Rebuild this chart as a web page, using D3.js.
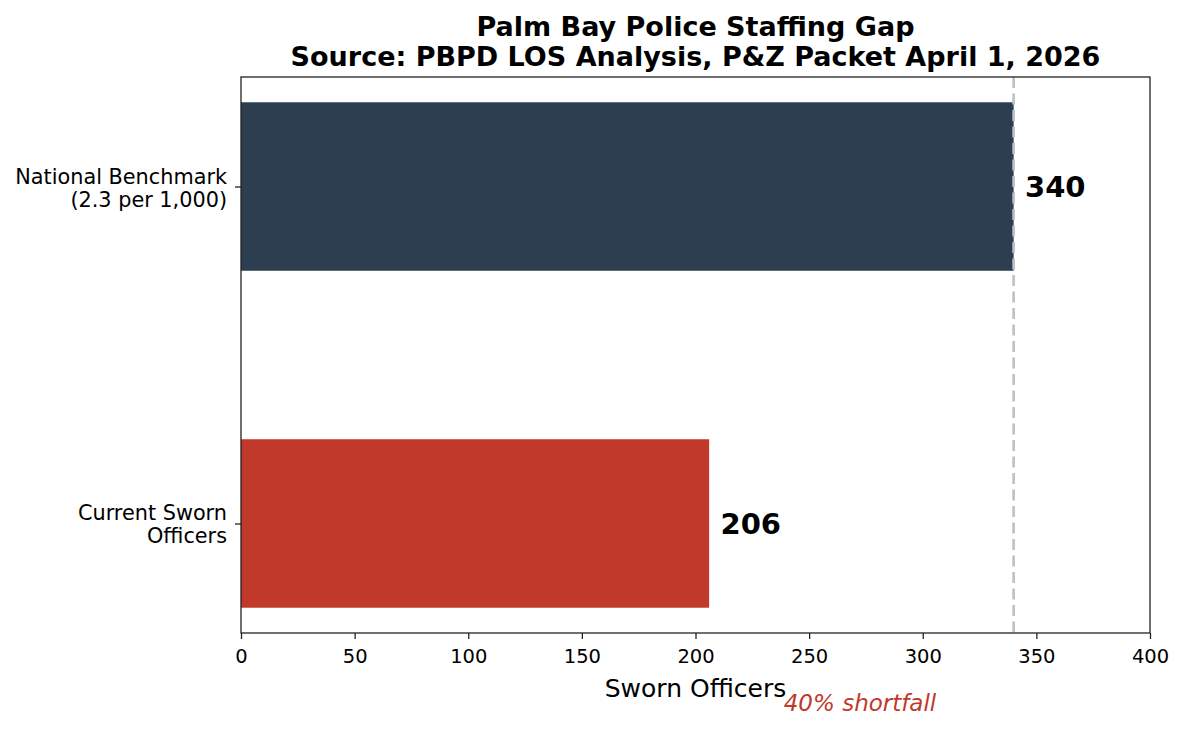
<!DOCTYPE html>
<html><head><meta charset="utf-8">
<script src="https://cdn.jsdelivr.net/npm/d3@7"></script>
<style>body{margin:0;background:#fff}svg{display:block}text{font-family:"DejaVu Sans",sans-serif}</style>
</head><body><svg id="c" width="1184" height="730"></svg>
<script>
const categories = [["Current Sworn","Officers"],["National Benchmark","(2.3 per 1,000)"]];
const values = [206, 340];
const barColors = ["#c0392b", "#2c3e50"];
const xTicks = [0,50,100,150,200,250,300,350,400];
const benchmark = 340;
const titleLines = ["Palm Bay Police Staffing Gap","Source: PBPD LOS Analysis, P&Z Packet April 1, 2026"];
const xLabel = "Sworn Officers";
const note = "40% shortfall";

const svg = d3.select("#c");
const L=241, R=1150, T=77, B=633;
const x = d3.scaleLinear().domain([0,400]).range([L,R]);
const y = d3.scaleLinear().domain([-0.325,1.325]).range([B,T]);
const bh = 0.5;

svg.selectAll("rect.bar").data(values).enter().append("rect")
  .attr("x", x(0)).attr("width", d=>x(d)-x(0))
  .attr("y", (d,i)=>y(i+bh/2)).attr("height", (d,i)=>y(i-bh/2)-y(i+bh/2))
  .attr("fill",(d,i)=>barColors[i]);

svg.append("line").attr("x1",x(benchmark)).attr("x2",x(benchmark)).attr("y1",T).attr("y2",B)
  .attr("stroke","#bdc3c7").attr("stroke-width",2.7).attr("stroke-dasharray","11,5.5");

svg.selectAll("text.val").data(values).enter().append("text")
  .attr("x", d=>x(d+5)).attr("y",(d,i)=>y(i)).attr("dy","0.36em")
  .attr("font-size",29).attr("font-weight","bold").text(d=>d);

// frame
svg.append("rect").attr("x",L).attr("y",T).attr("width",R-L).attr("height",B-T)
  .attr("fill","none").attr("stroke","#222").attr("stroke-width",1.3);

const xa = svg.append("g").attr("transform",`translate(0,${B})`)
  .call(d3.axisBottom(x).tickValues(xTicks).tickSize(6).tickPadding(10).tickFormat(d3.format("d")));
xa.select(".domain").remove();
xa.selectAll("line").attr("stroke","#222").attr("stroke-width",1.3);
xa.selectAll("text").attr("font-size",19.5).attr("fill","#000").style("font-family","DejaVu Sans");

const ya = svg.append("g").attr("transform",`translate(${L},0)`)
  .call(d3.axisLeft(y).tickValues([0,1]).tickSize(6).tickFormat(""));
ya.select(".domain").remove();
ya.selectAll("line").attr("stroke","#222").attr("stroke-width",1.3);
categories.forEach((lines,i)=>{
  lines.forEach((s,j)=>svg.append("text").attr("text-anchor","end").attr("font-size",20.8)
    .attr("x", L-14).attr("y", y(i) + 1 + (j-(lines.length-1)/2)*23).attr("dy","0.36em").text(s));
});

svg.append("text").attr("x",(L+R)/2).attr("y",697).attr("text-anchor","middle")
  .attr("font-size",25).text(xLabel);
svg.append("text").attr("x",860).attr("y",711).attr("text-anchor","middle")
  .attr("font-size",23).attr("font-style","italic").attr("fill","#c0392b").text(note);

titleLines.forEach((s,i)=>svg.append("text").attr("x",(L+R)/2).attr("y",36+i*30)
  .attr("text-anchor","middle").attr("font-size",27).attr("font-weight","bold").text(s));
</script></body></html>
